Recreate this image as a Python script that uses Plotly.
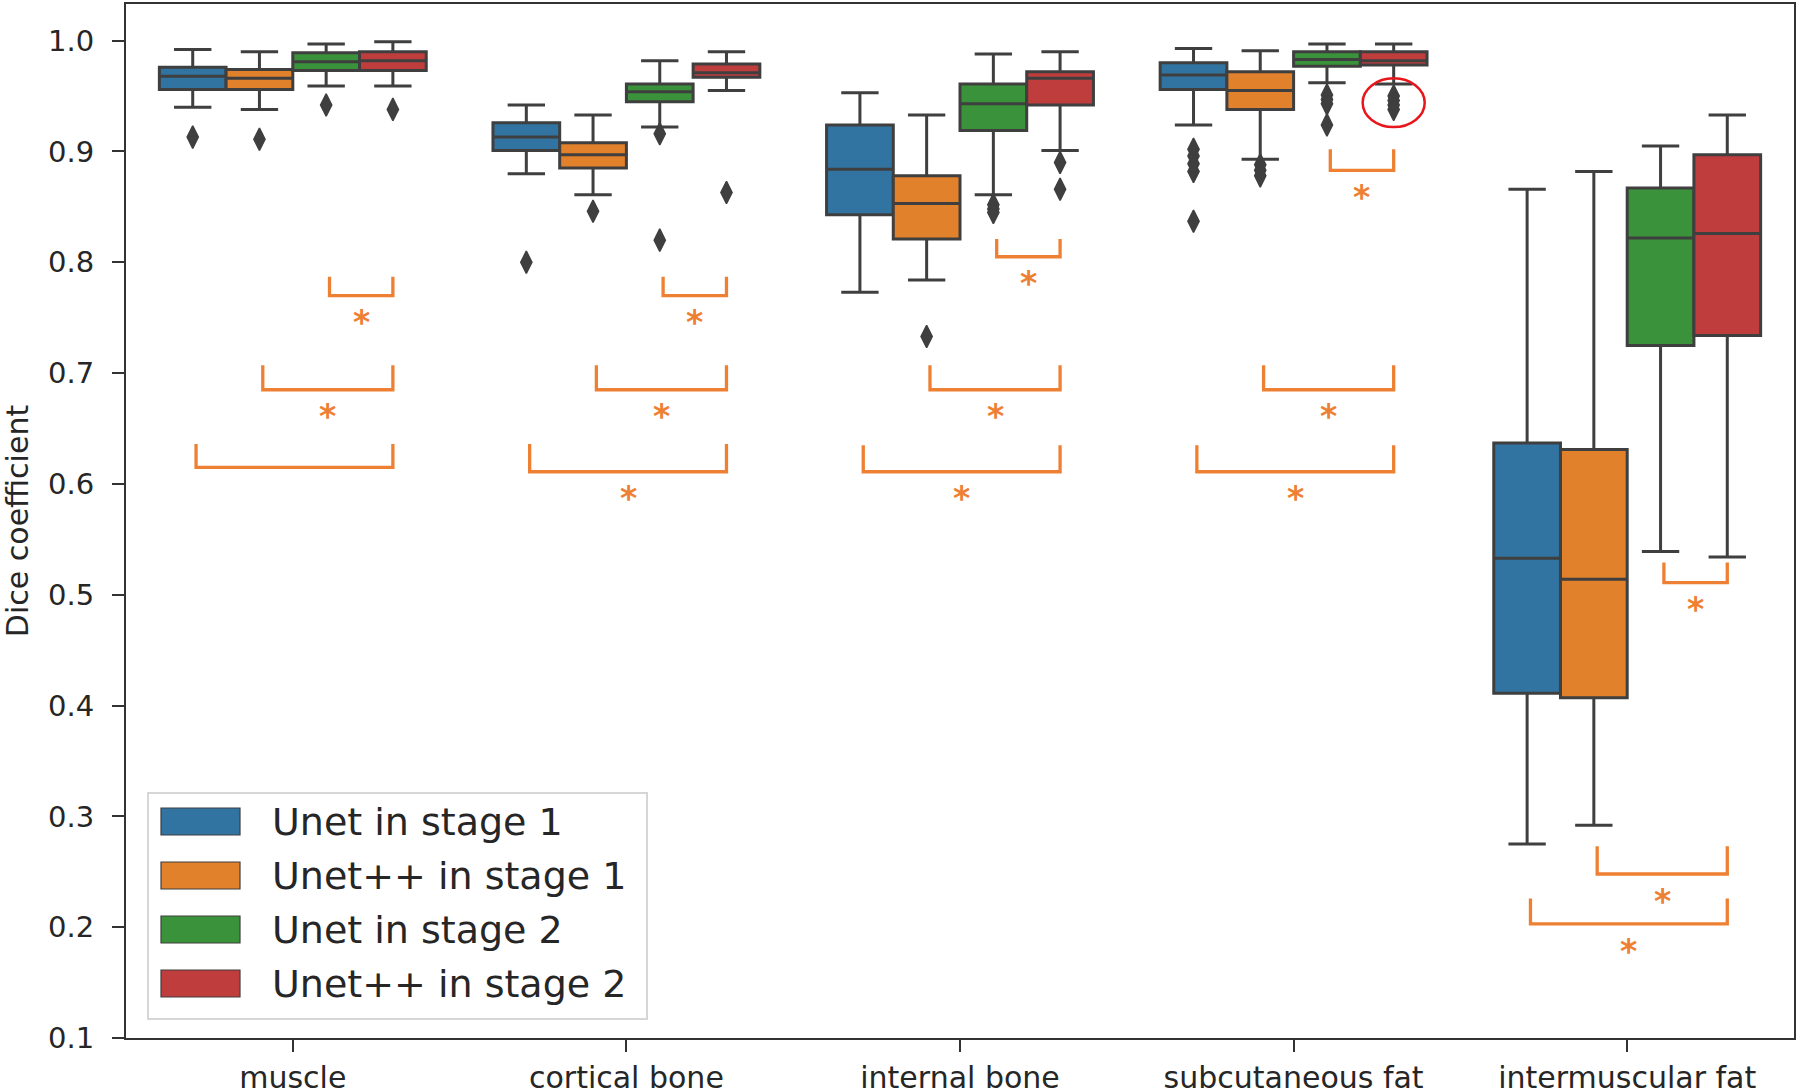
import plotly.graph_objects as go

# --- data ---
categories = ["muscle", "cortical bone", "internal bone", "subcutaneous fat", "intermuscular fat"]
models = ["Unet in stage 1", "Unet++ in stage 1", "Unet in stage 2", "Unet++ in stage 2"]
colors = ["#3274a1", "#e1812c", "#3a923a", "#c03d3e"]

# box statistics per model, one value per category
upper = [
    [0.992, 0.942, 0.953, 0.993, 0.866],
    [0.990, 0.933, 0.933, 0.991, 0.882],
    [0.997, 0.982, 0.988, 0.997, 0.905],
    [0.999, 0.990, 0.990, 0.997, 0.933],
]
q3 = [
    [0.976, 0.926, 0.924, 0.980, 0.637],
    [0.974, 0.908, 0.878, 0.972, 0.631],
    [0.989, 0.961, 0.961, 0.990, 0.867],
    [0.990, 0.979, 0.972, 0.990, 0.897],
]
median = [
    [0.968, 0.913, 0.884, 0.969, 0.533],
    [0.966, 0.897, 0.853, 0.955, 0.514],
    [0.981, 0.954, 0.943, 0.983, 0.822],
    [0.982, 0.971, 0.966, 0.982, 0.826],
]
q1 = [
    [0.956, 0.901, 0.843, 0.956, 0.411],
    [0.956, 0.885, 0.821, 0.938, 0.407],
    [0.973, 0.945, 0.919, 0.977, 0.725],
    [0.973, 0.967, 0.942, 0.978, 0.734],
]
lower = [
    [0.940, 0.880, 0.773, 0.924, 0.275],
    [0.938, 0.861, 0.784, 0.893, 0.292],
    [0.959, 0.922, 0.861, 0.962, 0.539],
    [0.959, 0.955, 0.901, 0.961, 0.534],
]

# outliers: model -> category -> values
outliers = [
    [[0.913], [0.800], [], [0.902, 0.896, 0.889, 0.882, 0.837], []],
    [[0.911], [0.846], [0.733], [0.888, 0.883, 0.878], []],
    [[0.942], [0.916, 0.820], [0.852, 0.848, 0.845], [0.951, 0.947, 0.943, 0.924], []],
    [[0.938], [0.863], [0.890, 0.866], [0.950, 0.946, 0.942, 0.938], []],
]

# significance brackets: (category, model from, model to, y of bar, y of tips, star)
brackets = [
    (0, 2, 3, 0.770, 0.787, True),
    (0, 1, 3, 0.685, 0.707, True),
    (0, 0, 3, 0.615, 0.636, False),
    (1, 2, 3, 0.770, 0.787, True),
    (1, 1, 3, 0.685, 0.707, True),
    (1, 0, 3, 0.611, 0.636, True),
    (2, 2, 3, 0.805, 0.821, True),
    (2, 1, 3, 0.685, 0.707, True),
    (2, 0, 3, 0.611, 0.635, True),
    (3, 2, 3, 0.883, 0.902, True),
    (3, 1, 3, 0.685, 0.707, True),
    (3, 0, 3, 0.611, 0.635, True),
    (4, 2, 3, 0.511, 0.529, True),
    (4, 1, 3, 0.248, 0.273, True),
    (4, 0, 3, 0.203, 0.226, True),
]

# the outliers circled in red (subcutaneous fat, Unet++ stage 2)
circled = (3, 3)

y_ticks = [0.1, 0.2, 0.3, 0.4, 0.5, 0.6, 0.7, 0.8, 0.9, 1.0]

# --- styling ---
FONT = "DejaVu Sans"
EDGE = "#3f3f3f"
SIG = "#ee8033"
BOX_W = 0.2
offsets = [-0.3, -0.1, 0.1, 0.3]

W, H = 1800, 1089
M_L, M_R, M_T, M_B = 126, 6, 4, 51


def px_to_paper(px, py):
    return ((px - M_L) / (W - M_L - M_R), (H - M_B - py) / (H - M_T - M_B))


fig = go.Figure()

for m, name in enumerate(models):
    xs = [i + offsets[m] for i in range(len(categories))]
    fig.add_trace(go.Box(
        x=xs,
        q1=q1[m], median=median[m], q3=q3[m],
        lowerfence=lower[m], upperfence=upper[m],
        width=BOX_W,
        whiskerwidth=0.56,
        fillcolor=colors[m],
        line=dict(color=EDGE, width=3),
        boxpoints=False,
        name=name,
        showlegend=False,
    ))
    ox, oy = [], []
    for i, vals in enumerate(outliers[m]):
        ox += [i + offsets[m]] * len(vals)
        oy += vals
    fig.add_trace(go.Scatter(
        x=ox, y=oy, mode="markers",
        marker=dict(symbol="diamond-tall", size=16, color=EDGE,
                    line=dict(color=EDGE, width=1.5)),
        showlegend=False, hoverinfo="skip",
    ))

# significance brackets
bx, by = [], []
for cat, a, b, y_bar, y_tip, star in brackets:
    x0 = cat + offsets[a] + 0.01
    x1 = cat + offsets[b]
    bx += [x0, x0, x1, x1, None]
    by += [y_tip, y_bar, y_bar, y_tip, None]
    if star:
        fig.add_annotation(
            x=(x0 + x1) / 2, y=y_bar - 0.02, text="<b>*</b>",
            showarrow=False, yshift=-5,
            font=dict(family=FONT, size=33, color=SIG),
        )
fig.add_trace(go.Scatter(
    x=bx, y=by, mode="lines",
    line=dict(color=SIG, width=3.3),
    showlegend=False, hoverinfo="skip",
))

# red circle around the highlighted outliers
c_cat, c_m = circled
c_vals = outliers[c_m][c_cat]
cx = c_cat + offsets[c_m]
cy = (max(c_vals) + min(c_vals)) / 2
ry = (max(c_vals) - min(c_vals)) / 2 + 0.016
fig.add_shape(type="circle", xref="x", yref="y",
              x0=cx - 0.093, x1=cx + 0.093, y0=cy - ry, y1=cy + ry,
              line=dict(color="#e8161b", width=2.5))

# legend drawn by hand so the colour patches are wide rectangles
lx0, ly0 = px_to_paper(148, 1019)
lx1, ly1 = px_to_paper(647, 793)
fig.add_shape(type="rect", xref="paper", yref="paper",
              x0=lx0, x1=lx1, y0=ly0, y1=ly1,
              line=dict(color="#d6d6d6", width=2), fillcolor="rgba(255,255,255,0.8)")
for m, name in enumerate(models):
    cy_px = 821.5 + 54 * m
    px0, py0 = px_to_paper(161, cy_px + 13.5)
    px1, py1 = px_to_paper(240, cy_px - 13.5)
    fig.add_shape(type="rect", xref="paper", yref="paper",
                  x0=px0, x1=px1, y0=py0, y1=py1,
                  line=dict(color=EDGE, width=1.2), fillcolor=colors[m])
    tx, ty = px_to_paper(270, cy_px)
    fig.add_annotation(x=tx, y=ty, xref="paper", yref="paper",
                       text=name, showarrow=False, xanchor="left", yanchor="middle",
                       font=dict(family=FONT, size=38, color="#262626"))

fig.update_layout(
    width=W, height=H,
    margin=dict(l=M_L, r=M_R, t=M_T, b=M_B, autoexpand=False),
    plot_bgcolor="white",
    paper_bgcolor="white",
    boxmode="overlay",
    showlegend=False,
    font=dict(family=FONT, color="#262626"),
    xaxis=dict(
        range=[-0.5, len(categories) - 0.5],
        tickvals=list(range(len(categories))),
        ticktext=categories,
        tickfont=dict(size=30, color="#262626"),
        ticks="outside", ticklen=12, tickwidth=2, tickcolor="#333333",
        ticklabelstandoff=0,
        showline=True, mirror=True, linecolor="#333333", linewidth=2,
        showgrid=False, zeroline=False, automargin=False,
    ),
    yaxis=dict(
        range=[0.1, 1.0331],
        tickvals=y_ticks,
        ticktext=[f"{v:.1f}" for v in y_ticks],
        tickfont=dict(size=29, color="#262626"),
        ticks="outside", ticklen=12, tickwidth=2, tickcolor="#333333",
        ticklabelstandoff=12,
        showline=True, mirror=True, linecolor="#333333", linewidth=2,
        showgrid=False, zeroline=False, automargin=False,
        title=dict(text="Dice coefficient", font=dict(size=30, color="#262626"), standoff=16),
    ),
)

# the page body has a default 8px margin; drop it so the figure sits at the window corner
fig.write_html("out.html", config={"displayModeBar": False},
               post_script="document.body.style.margin='0';")
